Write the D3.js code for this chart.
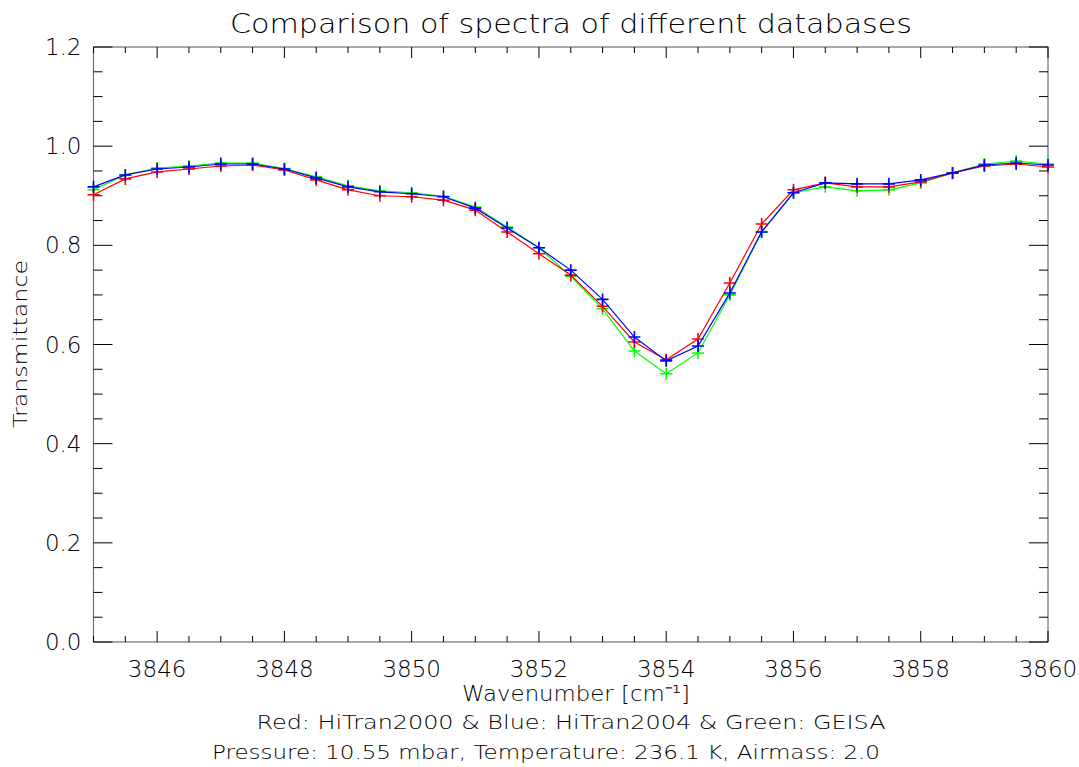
<!DOCTYPE html>
<html><head><meta charset="utf-8">
<script src="https://cdn.jsdelivr.net/npm/d3@7"></script>
<style>
html,body{margin:0;padding:0;background:#fff;}
svg text{font-family:"DejaVu Sans",sans-serif;font-weight:300;fill:#000;}
</style></head>
<body><svg id="c" width="1079" height="767"></svg>
<script>
const wavenumbers = d3.range(3845, 3860.001, 0.5); // sampling grid, 31 points
const hitran2000 = [0.902,0.934,0.948,0.954,0.960,0.962,0.952,0.932,0.912,0.900,0.898,0.891,0.871,0.827,0.783,0.740,0.677,0.605,0.569,0.611,0.724,0.843,0.912,0.926,0.918,0.918,0.928,0.946,0.960,0.964,0.958];
const hitran2004 = [0.918,0.942,0.954,0.958,0.964,0.964,0.954,0.936,0.918,0.908,0.904,0.898,0.875,0.835,0.795,0.750,0.691,0.615,0.567,0.597,0.704,0.827,0.906,0.926,0.924,0.924,0.932,0.946,0.962,0.966,0.962];
const geisa = [0.912,0.942,0.956,0.960,0.966,0.966,0.955,0.938,0.920,0.910,0.906,0.899,0.877,0.837,0.795,0.738,0.672,0.587,0.541,0.583,0.700,0.827,0.906,0.918,0.910,0.912,0.926,0.946,0.964,0.970,0.964];
const xMajorTicks = [3846,3848,3850,3852,3854,3856,3858,3860];
const yMajorTicks = [0.0,0.2,0.4,0.6,0.8,1.0,1.2];
const titleText = "Comparison of spectra of different databases";
const xTitle = "Wavenumber [cm\u207B\u00B9]";
const yTitle = "Transmittance";
const legendLine = "Red: HiTran2000 & Blue: HiTran2004 & Green: GEISA";
const condLine = "Pressure: 10.55 mbar, Temperature: 236.1 K, Airmass: 2.0";

const svg = d3.select("#c");
const L=93.5, R=1048, T=47, B=642;
const x = d3.scaleLinear().domain([3845,3860]).range([L,R]);
const y = d3.scaleLinear().domain([0,1.2]).range([B,T]);

// frame
svg.append("rect").attr("x",L).attr("y",T).attr("width",R-L).attr("height",B-T)
  .attr("fill","none").attr("stroke","#707070").attr("stroke-width",1.2);

const xMinor = d3.range(3845,3860.001,0.5);
const yMinor = d3.range(0,1.2001,0.05);
const tk = svg.append("g").attr("stroke","#000").attr("stroke-width",1);
xMinor.forEach(v=>{
  const maj = xMajorTicks.some(m=>Math.abs(m-v)<1e-6);
  const len = maj?11:6;
  tk.append("line").attr("x1",x(v)).attr("x2",x(v)).attr("y1",B).attr("y2",B-len);
  tk.append("line").attr("x1",x(v)).attr("x2",x(v)).attr("y1",T).attr("y2",T+len);
});
yMinor.forEach(v=>{
  const maj = yMajorTicks.some(m=>Math.abs(m-v)<1e-6);
  const len = maj?19:9;
  tk.append("line").attr("x1",L).attr("x2",L+len).attr("y1",y(v)).attr("y2",y(v));
  tk.append("line").attr("x1",R).attr("x2",R-len).attr("y1",y(v)).attr("y2",y(v));
});

// tick labels
svg.append("g").selectAll("text").data(xMajorTicks).join("text")
  .attr("x",d=>x(d)).attr("y",B+35).attr("text-anchor","middle")
  .attr("font-size",23).text(d=>d);
svg.append("g").selectAll("text").data(yMajorTicks).join("text")
  .attr("x",L-12).attr("y",d=>y(d)+8).attr("text-anchor","end")
  .attr("font-size",23).text(d=>d.toFixed(1));

// titles
svg.append("text").attr("x",571).attr("y",33).attr("text-anchor","middle")
  .attr("font-size",27).attr("textLength",682).attr("lengthAdjust","spacingAndGlyphs").text(titleText);
svg.append("text").attr("x",576).attr("y",701).attr("text-anchor","middle")
  .attr("font-size",22).attr("textLength",228).attr("lengthAdjust","spacingAndGlyphs").text(xTitle);
svg.append("text").attr("x",571).attr("y",729).attr("text-anchor","middle")
  .attr("font-size",20).attr("textLength",629).attr("lengthAdjust","spacingAndGlyphs").text(legendLine);
svg.append("text").attr("x",546).attr("y",759).attr("text-anchor","middle")
  .attr("font-size",20).attr("textLength",668).attr("lengthAdjust","spacingAndGlyphs").text(condLine);
svg.append("text").attr("transform","translate(27,344) rotate(-90)").attr("text-anchor","middle")
  .attr("font-size",20).attr("textLength",168).attr("lengthAdjust","spacingAndGlyphs").text(yTitle);

// series
const series = [
  {vals:geisa, color:"#00ff00"},
  {vals:hitran2000, color:"#ff0000"},
  {vals:hitran2004, color:"#0000ff"}
];
const line = d3.line().x(d=>x(d[0])).y(d=>y(d[1]));
const plot = svg.append("g");
series.forEach(s=>{
  const pts = wavenumbers.map((w,i)=>[w,s.vals[i]]);
  plot.append("path").attr("d",line(pts)).attr("fill","none").attr("stroke",s.color).attr("stroke-width",1.2);
  pts.forEach(p=>{
    const cx=x(p[0]), cy=y(p[1]);
    plot.append("path").attr("d",`M${cx-6},${cy}H${cx+6}M${cx},${cy-6}V${cy+6}`)
      .attr("stroke",s.color).attr("stroke-width",1.6).attr("fill","none");
  });
});
</script></body></html>
